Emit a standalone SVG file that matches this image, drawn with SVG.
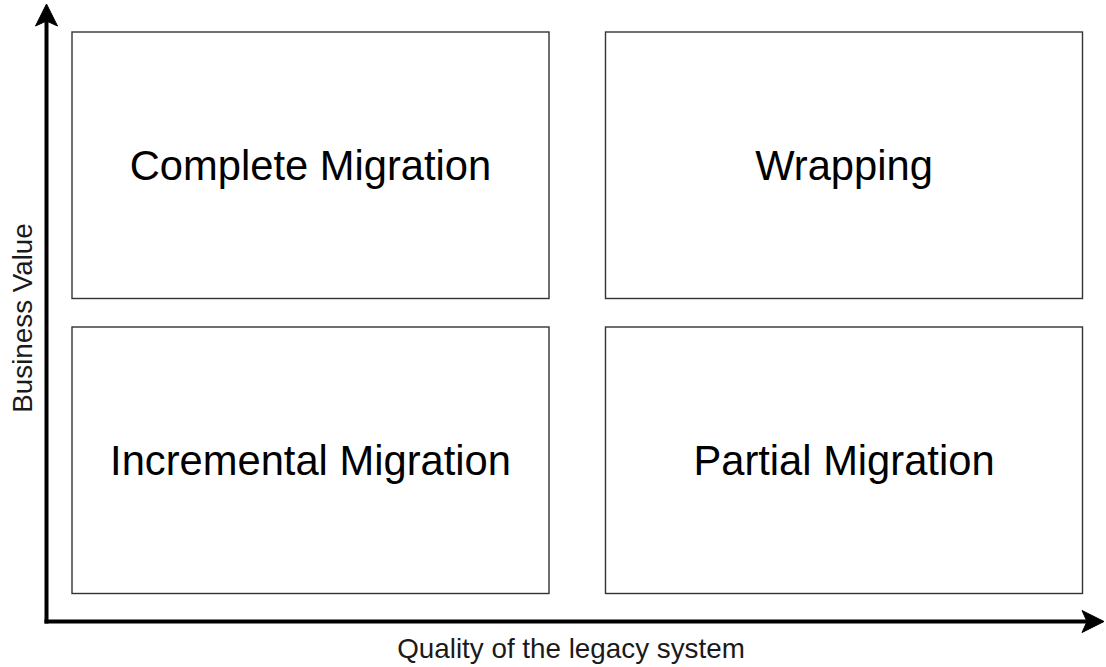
<svg xmlns="http://www.w3.org/2000/svg" width="1106" height="667" viewBox="0 0 1106 667">
<style>
.box{fill:#fff;stroke:#333;stroke-width:1.4}
.lbl{font-family:"Liberation Sans",Arial,sans-serif;font-size:41.7px;fill:#000;text-anchor:middle}
.ax{font-family:"Liberation Sans",Arial,sans-serif;font-size:27.8px;fill:#1a1a1a;text-anchor:middle}
.axis{stroke:#000;stroke-width:4;fill:none}
.head{fill:#000;stroke:#000;stroke-width:1}
</style>
<rect width="1106" height="667" fill="#fff"/>
<g id="connectors">
<path class="axis" d="M46.5 623.5 V20"/>
<path class="head" d="M46.5 4 L57.5 26 L46.5 21 L35.5 26 Z"/>
<path class="axis" d="M44.5 621.5 H1090"/>
<path class="head" d="M1104 621.5 L1082 632.5 L1087 621.5 L1082 610.5 Z"/>
</g>
<g id="complete-migration">
<rect class="box" x="72" y="32" width="477" height="266.5"/>
<text class="lbl" x="310.5" y="180">Complete Migration</text>
</g>
<g id="wrapping">
<rect class="box" x="605.5" y="32" width="477" height="266.5"/>
<text class="lbl" x="844" y="180">Wrapping</text>
</g>
<g id="incremental-migration">
<rect class="box" x="72" y="327" width="477" height="266.5"/>
<text class="lbl" x="310.5" y="475">Incremental Migration</text>
</g>
<g id="partial-migration">
<rect class="box" x="605.5" y="327" width="477" height="266.5"/>
<text class="lbl" x="844" y="475">Partial Migration</text>
</g>
<g id="axis-labels">
<text class="ax" x="571" y="658">Quality of the legacy system</text>
<text class="ax" transform="translate(32,318) rotate(-90)" x="0" y="0">Business Value</text>
</g>
</svg>
